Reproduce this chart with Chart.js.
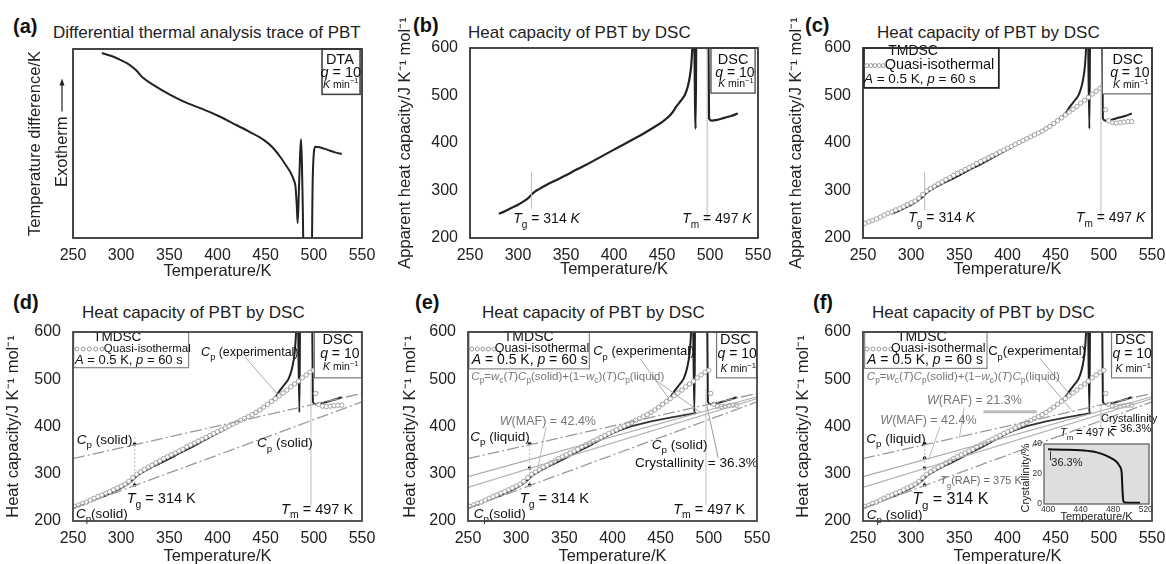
<!DOCTYPE html>
<html>
<head>
<meta charset="utf-8">
<script src="https://cdn.jsdelivr.net/npm/chart.js@4.4.0/dist/chart.umd.min.js"></script>
<style>
  body { margin: 0; background: #fff; width: 1166px; height: 564px; position: relative; overflow: hidden; font-family: "Liberation Sans", Arial, sans-serif; }
  canvas { position: absolute; left: 0; top: 0; }
  .lbl { position: absolute; font-weight: bold; font-size: 20px; line-height: 20px; color: #111; }
  .ttl { position: absolute; font-size: 17px; line-height: 17px; color: #222; white-space: nowrap; }
</style>
</head>
<body>
<div class="lbl" style="left:13px;top:16px">(a)</div>
<div class="ttl" style="left:53px;top:24px">Differential thermal analysis trace of PBT</div>
<div class="lbl" style="left:413px;top:15px">(b)</div>
<div class="ttl" style="left:468px;top:24px">Heat capacity of PBT by DSC</div>
<div class="lbl" style="left:805px;top:15px">(c)</div>
<div class="ttl" style="left:877px;top:24px">Heat capacity of PBT by DSC</div>
<div class="lbl" style="left:13px;top:292px">(d)</div>
<div class="ttl" style="left:82px;top:304px">Heat capacity of PBT by DSC</div>
<div class="lbl" style="left:415px;top:292px">(e)</div>
<div class="ttl" style="left:482px;top:304px">Heat capacity of PBT by DSC</div>
<div class="lbl" style="left:813px;top:292px">(f)</div>
<div class="ttl" style="left:872px;top:304px">Heat capacity of PBT by DSC</div>

<canvas id="cA" width="1166" height="564"></canvas>
<canvas id="cB" width="1166" height="564"></canvas>
<canvas id="cC" width="1166" height="564"></canvas>
<canvas id="cD" width="1166" height="564"></canvas>
<canvas id="cE" width="1166" height="564"></canvas>
<canvas id="cF" width="1166" height="564"></canvas>
<canvas id="cI" width="1166" height="564"></canvas>

<script>
// DTA trace (arbitrary units, exotherm up)
const dtaTemp = [280, 290, 300, 306, 315, 323, 335, 350, 365, 382, 400, 416, 432, 448, 457, 465, 471, 476, 479, 481, 482.3, 483.2, 484.5, 485.8, 486.7, 487.6, 488.4, 489.8, 497.5, 498.8, 500, 501.5, 506, 515, 522, 529];
const dtaSignal = [97.9, 96.3, 94, 92.5, 89, 84.6, 80.5, 76, 72.2, 68.7, 64.8, 60.7, 56.5, 51.9, 48, 43, 38.5, 34.5, 31, 27, 17, 8, 25, 45, 52.2, 40, 20, -20, -20, 30, 45, 48.3, 48, 46.5, 45.3, 44.4];

// DSC apparent heat capacity, q = 10 K/min
const dscTemp = [280, 285, 290, 295, 300, 305, 310, 314, 318, 322, 330, 340, 350, 360, 370, 380, 390, 400, 410, 420, 430, 440, 450, 455, 460, 465, 470, 474, 477, 479, 480.5, 482, 483, 485, 486, 498, 499, 502, 508, 515, 522, 529];
const dscCp = [251, 255, 260, 265, 270, 276, 283, 291, 298, 303, 312, 322, 332, 343, 353, 364, 375, 386, 397, 408, 419, 431, 444, 452, 462, 477, 490, 502, 520, 540, 565, 620, 700, 430, 700, 700, 452, 447, 449, 453, 457, 462];

// quasi-isothermal TMDSC
const tmdscTemp = [252, 256, 260, 264, 268, 272, 276, 280, 284, 288, 292, 296, 300, 304, 308, 312, 316, 320, 324, 328, 332, 336, 340, 344, 348, 352, 356, 360, 364, 368, 372, 376, 380, 384, 388, 392, 396, 400, 404, 408, 412, 416, 420, 424, 428, 432, 436, 440, 444, 448, 452, 456, 460, 464, 468, 472, 476, 480, 484, 488, 492, 496, 500, 502, 505, 509, 513, 517, 521, 525, 529];
const tmdscCp = [231, 234, 237, 240, 244, 248, 252, 255, 259, 262, 266, 270, 274, 278, 284, 292, 299, 304, 309, 314, 318, 323, 327, 332, 336, 340, 344, 348, 352, 357, 361, 365, 369, 373, 377, 381, 385, 389, 393, 397, 401, 405, 409, 413, 417, 421, 425, 430, 435, 441, 447, 453, 459, 465, 471, 477, 484, 490, 496, 503, 509, 515, 519, 470, 447, 443, 442, 443, 444, 445, 445];

// reference heat capacities (end points of straight lines)
const refTemp = [250, 550];
const liquidCp = [332, 470];
const solidCp = [227, 452];
const base363Cp = [294, 463];   // w_c = 36.3 %
const raf213Cp = [271, 459];    // w_c + W(RAF) = 57.6 %

// Cp computed with w_c(T)
const calcTemp = [400, 410, 420, 440, 460, 480, 487];
const calcCp = [386, 394, 401, 411, 419, 426, 429];

// marks at Tg = 314 K
const tgDotsD = [363, 276];
const tgDotsE = [364, 312, 276];
const tgDotsF = [364, 333, 312, 276];

// inset: crystallinity vs temperature
const crystTemp = [400, 420, 440, 455, 465, 472, 478, 483, 486, 488, 489.5, 490.5, 491, 491.5, 492, 492.5, 494, 500, 513];
const crystPct = [36.4, 36.2, 35.8, 34.9, 33.5, 32, 30.3, 28.5, 26.8, 25, 23.5, 20, 14, 8, 4, 1.5, 0.5, 0.4, 0.4];

const xTicks = [250, 300, 350, 400, 450, 500, 550];
const cpTicks = [200, 300, 400, 500, 600];
const insetXTicks = [400, 440, 480, 520];
const insetYTicks = [0, 20, 40];

const FONT = '"Liberation Sans", Arial, sans-serif';
Chart.defaults.font.family = FONT;
Chart.defaults.color = '#222';

const pts = (xs, ys) => xs.map((x, i) => ({ x: x, y: ys[i] }));
const seg = (x0, y0, x1, y1, color, w, dash) => ({
  data: [{ x: x0, y: y0 }, { x: x1, y: y1 }], borderColor: color, borderWidth: w || 1,
  borderDash: dash || [], pointRadius: 0, fill: false
});

function rich(ctx, x, y, segs, size, color, align) {
  const parts = segs.map(s => {
    const st = s[1] || '';
    const small = st.includes('b') || st.includes('p');
    const fs = small ? size * 0.72 : size;
    const font = (st.includes('i') ? 'italic ' : '') + fs + 'px ' + FONT;
    ctx.font = font;
    return { t: s[0], font: font, w: ctx.measureText(s[0]).width, dy: st.includes('b') ? size * 0.32 : st.includes('p') ? -size * 0.42 : 0 };
  });
  const total = parts.reduce((a, p) => a + p.w, 0);
  let cx = align === 'center' ? x - total / 2 : align === 'right' ? x - total : x;
  ctx.fillStyle = color;
  ctx.textAlign = 'left';
  ctx.textBaseline = 'alphabetic';
  parts.forEach(p => { ctx.font = p.font; ctx.fillText(p.t, cx, y + p.dy); cx += p.w; });
}

// plugin drawing frame, legend boxes and labels
function deco(spec) {
  return {
    id: 'deco',
    beforeDatasetsDraw(chart) {
      if (!spec.bg) return;
      const a = chart.chartArea;
      chart.ctx.fillStyle = spec.bg;
      chart.ctx.fillRect(a.left, a.top, a.width, a.height);
    },
    afterDatasetsDraw(chart) {
      const { ctx, chartArea: a } = chart;
      const sx = chart.scales.x, sy = chart.scales.y;
      ctx.save();
      (spec.boxes || []).forEach(b => {
        const x0 = sx.getPixelForValue(b.x0), x1 = sx.getPixelForValue(b.x1);
        const y0 = sy.getPixelForValue(b.y0), y1 = sy.getPixelForValue(b.y1);
        ctx.fillStyle = '#fff';
        ctx.fillRect(x0, y0, x1 - x0, y1 - y0);
        ctx.strokeStyle = b.color || '#666';
        ctx.lineWidth = b.w || 1.4;
        ctx.strokeRect(x0, y0, x1 - x0, y1 - y0);
      });
      (spec.circles || []).forEach(c => {
        const n = 5, x0 = sx.getPixelForValue(c.x0), x1 = sx.getPixelForValue(c.x1), yy = sy.getPixelForValue(c.y);
        ctx.strokeStyle = '#9a9a9a';
        ctx.lineWidth = 1;
        for (let i = 0; i < n; i++) {
          ctx.beginPath();
          ctx.arc(x0 + (x1 - x0) * i / (n - 1), yy, 2, 0, Math.PI * 2);
          ctx.stroke();
        }
      });
      (spec.texts || []).forEach(t => {
        rich(ctx, sx.getPixelForValue(t.x), sy.getPixelForValue(t.y), t.s, t.size || 14, t.color || '#111', t.align || 'left');
      });
      ctx.strokeStyle = spec.frameColor || '#333';
      ctx.lineWidth = spec.frameWidth || 1.8;
      ctx.strokeRect(a.left, a.top, a.width, a.height);
      if (spec.after) spec.after(chart);
      ctx.restore();
    }
  };
}

function panel(id, area, yTitle, yTitleX, xTitleY, datasets, spec, yCfg) {
  const lh = 16.5 * 1.2;
  const padLeft = yTitleX - lh / 2;
  const hx = xTitleY + lh / 2 - area.B;
  return new Chart(document.getElementById(id), {
    type: 'line',
    data: { datasets: datasets },
    options: {
      responsive: false, animation: false, events: [],
      layout: { padding: { left: padLeft, top: area.T, right: 1166 - area.R, bottom: 564 - area.B - hx } },
      plugins: { legend: { display: false }, tooltip: { enabled: false } },
      scales: {
        x: {
          type: 'linear', min: 250, max: 550,
          afterBuildTicks: s => { s.ticks = xTicks.map(v => ({ value: v })); },
          ticks: { padding: 0, font: { size: 16 }, color: '#222' },
          grid: { display: false }, border: { display: false },
          title: { display: true, text: 'Temperature/K', font: { size: 16.5 }, padding: 0, color: '#222' },
          afterFit: s => { s.height = hx; }
        },
        y: Object.assign({
          type: 'linear', min: 200, max: 600,
          afterBuildTicks: s => { s.ticks = cpTicks.map(v => ({ value: v })); },
          ticks: { padding: 4, font: { size: 16 }, color: '#222' },
          grid: { display: false }, border: { display: false },
          title: { display: true, text: yTitle, font: { size: 16.5 }, padding: 0, color: '#222' },
          afterFit: s => { s.width = area.L - padLeft; }
        }, yCfg || {})
      }
    },
    plugins: [deco(spec)]
  });
}

// common styles
const dscLine = (w) => ({ data: pts(dscTemp, dscCp), borderColor: '#222', borderWidth: w || 2, pointRadius: 0, cubicInterpolationMode: 'monotone' });
const tmdscPts = () => ({ data: pts(tmdscTemp, tmdscCp), showLine: false, pointRadius: 2.2, pointBorderWidth: 1, pointBorderColor: '#a0a0a0', pointBackgroundColor: '#fff' });
const dashDot = [12, 3, 2, 3];
const liquidLine = () => ({ data: pts(refTemp, liquidCp), borderColor: '#9a9a9a', borderWidth: 1.3, borderDash: dashDot, pointRadius: 0 });
const solidLine = () => ({ data: pts(refTemp, solidCp), borderColor: '#9a9a9a', borderWidth: 1.3, borderDash: dashDot, pointRadius: 0 });
const baseLine = () => ({ data: pts(refTemp, base363Cp), borderColor: '#ababab', borderWidth: 1.2, pointRadius: 0 });
const rafLine = () => ({ data: pts(refTemp, raf213Cp), borderColor: '#b5b5b5', borderWidth: 1.2, pointRadius: 0 });
const calcLine = () => ({ data: pts(calcTemp, calcCp), borderColor: '#333', borderWidth: 1.8, pointRadius: 0 });
const dots = (cps) => ({ data: cps.map(c => ({ x: 314, y: c })), showLine: false, pointRadius: 1.8, pointBackgroundColor: '#111', pointBorderWidth: 0 });
const vline = (t, c0, c1, dash) => seg(t, c0, t, c1, '#bdbdbd', 1, dash);

const CpSym = (s, it) => [['C', it === false ? '' : 'i'], ['p', 'b'], [s]];
const dscTexts = (xc, yDsc, yQ, yK) => [
  { x: xc, y: yDsc, s: [['DSC']], size: 14.5, align: 'center' },
  { x: xc + 2, y: yQ, s: [['q', 'i'], [' = 10']], size: 14, align: 'center' },
  { x: xc + 3, y: yK, s: [['K', 'i'], [' min'], ['\u22121', 'p']], size: 10.5, align: 'center' }
];
const tmdscTexts = (p) => [
  { x: p.xc, y: p.yT, s: [['TMDSC']], size: p.sT, align: 'center' },
  { x: p.xq, y: p.yQ, s: [['Quasi-isothermal']], size: p.sQ },
  { x: p.xa, y: p.yA, s: [['A', 'i'], [' = 0.5 K, '], ['p', 'i'], [' = 60 s']], size: p.sA, align: 'center' }
];
const formula = (x, y) => ({ x: x, y: y, size: 11.5, color: '#777', s: [['C', 'i'], ['p', 'b'], ['='], ['w', 'i'], ['c', 'b'], ['('], ['T', 'i'], [')'], ['C', 'i'], ['p', 'b'], ['(solid)+(1\u2212'], ['w', 'i'], ['c', 'b'], [')('], ['T', 'i'], [')'], ['C', 'i'], ['p', 'b'], ['(liquid)']] });

// (a) DTA
panel('cA', { L: 73, T: 49, R: 362, B: 238 }, 'Temperature difference/K', 35, 271,
  [{ data: pts(dtaTemp, dtaSignal), borderColor: '#222', borderWidth: 2, pointRadius: 0, cubicInterpolationMode: 'monotone' }],
  {
    boxes: [{ x0: 508.5, x1: 548, y0: 100, y1: 76, color: '#444', w: 1.6 }],
    texts: [
      { x: 527, y: 92.3, s: [['DTA']], size: 14.5, align: 'center' },
      { x: 528, y: 85.3, s: [['q', 'i'], [' = 10']], size: 14.5, align: 'center' },
      { x: 528, y: 79.6, s: [['K', 'i'], [' min'], ['\u22121', 'p']], size: 10.5, align: 'center' }
    ],
    after: chart => {
      const ctx = chart.ctx, a = chart.chartArea;
      const xc = a.left - 11, yStart = a.top + 138;
      ctx.save();
      ctx.translate(xc, yStart);
      ctx.rotate(-Math.PI / 2);
      ctx.font = '16.5px ' + FONT;
      ctx.fillStyle = '#222';
      ctx.textBaseline = 'middle';
      ctx.textAlign = 'left';
      ctx.fillText('Exotherm', 0, 0);
      const w = ctx.measureText('Exotherm').width;
      ctx.strokeStyle = '#222';
      ctx.lineWidth = 1.2;
      ctx.beginPath(); ctx.moveTo(w + 5, 0); ctx.lineTo(w + 33, 0); ctx.stroke();
      ctx.beginPath(); ctx.moveTo(w + 38, 0); ctx.lineTo(w + 31, -2.5); ctx.lineTo(w + 31, 2.5); ctx.closePath(); ctx.fill();
      ctx.restore();
    }
  },
  { min: 0, max: 100, afterBuildTicks: s => { s.ticks = []; }, ticks: { display: false } }
);

// (b) DSC only
panel('cB', { L: 470, T: 48, R: 758, B: 238 }, 'Apparent heat capacity/J K\u207B\u00B9 mol\u207B\u00B9', 405, 269,
  [vline(314, 262, 340), vline(497, 240, 600), dscLine(2.2)],
  {
    boxes: [{ x0: 501, x1: 547, y0: 600, y1: 505, color: '#555', w: 1.4 }],
    texts: dscTexts(524, 566, 540, 517).concat([
      { x: 295, y: 231, s: [['T', 'i'], ['g', 'b'], [' = 314 '], ['K', 'i']], size: 14 },
      { x: 471, y: 231, s: [['T', 'i'], ['m', 'b'], [' = 497 '], ['K', 'i']], size: 14 }
    ])
  }
);

// (c) DSC + TMDSC
panel('cC', { L: 863, T: 48, R: 1152, B: 238 }, 'Apparent heat capacity/J K\u207B\u00B9 mol\u207B\u00B9', 796, 269,
  [vline(314, 258, 340), vline(497, 244, 525), tmdscPts(), dscLine(2)],
  {
    boxes: [{ x0: 251, x1: 391, y0: 600, y1: 516, color: '#222', w: 1.8 }, { x0: 498.5, x1: 550, y0: 600, y1: 503.5, color: '#666', w: 1.2 }],
    circles: [{ x0: 254, x1: 271, y: 563 }],
    texts: tmdscTexts({ xc: 302, yT: 585, sT: 14, xq: 272.5, yQ: 556, sQ: 14.5, xa: 309, yA: 527, sA: 13.5 })
      .concat(dscTexts(525, 567, 540, 515)).concat([
      { x: 297, y: 233, s: [['T', 'i'], ['g', 'b'], [' = 314 '], ['K', 'i']], size: 14 },
      { x: 471, y: 233, s: [['T', 'i'], ['m', 'b'], [' = 497 '], ['K', 'i']], size: 14 }
    ])
  }
);

// (d) with solid / liquid reference lines
panel('cD', { L: 73, T: 332, R: 362, B: 521 }, 'Heat capacity/J K\u207B\u00B9 mol\u207B\u00B9', 13, 556,
  [vline(314, 272, 378, [2, 2]), vline(497, 232, 500), liquidLine(), solidLine(),
   seg(428.6, 547, 462, 469, '#aaa', 1), tmdscPts(), dscLine(2), dots(tgDotsD)],
  {
    frameColor: '#444',
    boxes: [{ x0: 250.7, x1: 370, y0: 600, y1: 524.5, color: '#888', w: 1.2 }, { x0: 500.6, x1: 549.5, y0: 600, y1: 503, color: '#777', w: 1.2 }],
    circles: [{ x0: 254, x1: 280, y: 564 }],
    texts: tmdscTexts({ xc: 296, yT: 582, sT: 13.5, xq: 282, yQ: 557.5, sQ: 11.5, xa: 308, yA: 532, sA: 13 })
      .concat(dscTexts(525, 575, 544, 519)).concat([
      { x: 383, y: 549, s: CpSym(' (experimental)'), size: 12.5 },
      { x: 254, y: 364, s: CpSym(' (solid)'), size: 13.5 },
      { x: 441, y: 356, s: CpSym(' (solid)'), size: 13.5 },
      { x: 253, y: 207, s: CpSym('(solid)'), size: 13.5 },
      { x: 305.7, y: 238, s: [['T', 'i'], ['g', 'b'], [' = 314 K']], size: 14.5 },
      { x: 466, y: 215.5, s: [['T', 'i'], ['m', 'b'], [' = 497 K']], size: 14.5 }
    ])
  }
);

// (e) + mixing baseline
panel('cE', { L: 468, T: 332, R: 757, B: 521 }, 'Heat capacity/J K\u207B\u00B9 mol\u207B\u00B9', 410, 556,
  [vline(314, 272, 368, [2, 2]), vline(497, 232, 480), liquidLine(), solidLine(), baseLine(), rafLine(),
   seg(428.5, 544, 458, 460, '#aaa', 1), seg(442, 502, 490.8, 431, '#aaa', 1), seg(509.8, 333, 497.8, 445, '#999', 1),
   seg(331, 399, 322.4, 310, '#bbb', 1),
   tmdscPts(), dscLine(2), calcLine(), dots(tgDotsE)],
  {
    frameColor: '#444',
    boxes: [{ x0: 251, x1: 376, y0: 600, y1: 522, color: '#888', w: 1.2 }, { x0: 508, x1: 549.5, y0: 600, y1: 503, color: '#777', w: 1.2 }],
    circles: [{ x0: 254, x1: 277, y: 564 }],
    texts: tmdscTexts({ xc: 313, yT: 582, sT: 14, xq: 277.7, yQ: 557.5, sQ: 12.5, xa: 314, yA: 533, sA: 14 })
      .concat(dscTexts(527.5, 575, 544, 515)).concat([
      { x: 380, y: 550.6, s: CpSym(' (experimental)'), size: 13 },
      formula(253.5, 499),
      { x: 283, y: 402.5, s: [['W', 'i'], ['(MAF) = 42.4%']], size: 12.5, color: '#777' },
      { x: 252.4, y: 369, s: CpSym(' (liquid)'), size: 13.5 },
      { x: 303.8, y: 238, s: [['T', 'i'], ['g', 'b'], [' = 314 K']], size: 14.5 },
      { x: 256, y: 207, s: CpSym('(solid)'), size: 13.5 },
      { x: 440.8, y: 353, s: CpSym(' (solid)'), size: 13.5 },
      { x: 423.4, y: 314, s: [['Crystallinity = 36.3%']], size: 13.5 },
      { x: 463, y: 215.5, s: [['T', 'i'], ['m', 'b'], [' = 497 K']], size: 14.5 }
    ])
  }
);

// (f) + rigid amorphous fraction
panel('cF', { L: 863, T: 332, R: 1152, B: 521 }, 'Heat capacity/J K\u207B\u00B9 mol\u207B\u00B9', 803, 556,
  [vline(314, 272, 368, [2, 2]), vline(497, 395, 445), liquidLine(), solidLine(), baseLine(), rafLine(),
   seg(433.7, 544, 464.9, 467, '#aaa', 1), seg(437, 505, 468, 431, '#aaa', 1), seg(375, 431.3, 430.3, 431.3, '#bbb', 3),
   seg(330, 400, 318, 330, '#bbb', 1), seg(355, 440, 350, 375, '#bbb', 1),
   tmdscPts(), dscLine(2), calcLine(), dots(tgDotsF)],
  {
    frameColor: '#444',
    boxes: [{ x0: 251.7, x1: 378.7, y0: 600, y1: 523, color: '#888', w: 1.2 }, { x0: 508, x1: 549.5, y0: 600, y1: 503, color: '#777', w: 1.2 }],
    circles: [{ x0: 254, x1: 279, y: 564 }],
    texts: tmdscTexts({ xc: 311, yT: 582, sT: 14, xq: 279, yQ: 557.5, sQ: 12.5, xa: 314.4, yA: 533, sA: 14 })
      .concat(dscTexts(527.5, 575, 544, 515)).concat([
      { x: 380, y: 550.6, s: CpSym('(experimental)', false), size: 13 },
      formula(254, 499),
      { x: 316.4, y: 448, s: [['W', 'i'], ['(RAF) = 21.3%']], size: 12.5, color: '#777' },
      { x: 268, y: 406, s: [['W', 'i'], ['(MAF) = 42.4%']], size: 12.5, color: '#777' },
      { x: 253.5, y: 365, s: CpSym(' (liquid)'), size: 13.5 },
      { x: 330, y: 277.6, s: [['T', 'i'], ['g', 'b'], ['(RAF) = 375 K']], size: 11, color: '#666' },
      { x: 301, y: 236.7, s: [['T', 'i'], ['g', 'b'], [' = 314 K']], size: 16 },
      { x: 254, y: 205, s: CpSym(' (solid)'), size: 13.5 },
      { x: 497, y: 409, s: [['Crystallinity']], size: 11 },
      { x: 507, y: 388, s: [['= 36.3%']], size: 11 },
      { x: 454.5, y: 379, s: [['T', 'i'], ['m', 'b'], [' = 497 K']], size: 11 }
    ])
  }
);

// (f) inset: crystallinity
(function () {
  const area = { L: 1044, T: 444, R: 1149, B: 504 };
  new Chart(document.getElementById('cI'), {
    type: 'line',
    data: { datasets: [{ data: pts(crystTemp, crystPct), borderColor: '#111', borderWidth: 2, pointRadius: 0, cubicInterpolationMode: 'monotone' }] },
    options: {
      responsive: false, animation: false, events: [],
      layout: { padding: { left: area.L, top: area.T, right: 1166 - area.R, bottom: 564 - area.B } },
      plugins: { legend: { display: false }, tooltip: { enabled: false } },
      scales: {
        x: { type: 'linear', min: 395, max: 524, display: false },
        y: { type: 'linear', min: -0.5, max: 40, display: false }
      }
    },
    plugins: [deco({
      bg: '#dedede', frameColor: '#555', frameWidth: 1.2,
      texts: [{ x: 404, y: 25, s: [['36.3%']], size: 11, color: '#222' }],
      after: chart => {
        const ctx = chart.ctx, a = chart.chartArea, sx = chart.scales.x, sy = chart.scales.y;
        const x = sx.getPixelForValue(403);
        ctx.strokeStyle = '#333'; ctx.lineWidth = 1;
        ctx.beginPath(); ctx.moveTo(x, sy.getPixelForValue(29)); ctx.lineTo(x, sy.getPixelForValue(35)); ctx.stroke();
        ctx.fillStyle = '#333';
        ctx.font = '8.5px ' + FONT;
        ctx.textAlign = 'center'; ctx.textBaseline = 'top';
        insetXTicks.forEach(v => ctx.fillText(String(v), sx.getPixelForValue(v), a.bottom + 1));
        ctx.textAlign = 'right'; ctx.textBaseline = 'middle';
        insetYTicks.forEach(v => ctx.fillText(String(v), a.left - 2, sy.getPixelForValue(v)));
        ctx.fillStyle = '#222';
        ctx.font = '11px ' + FONT;
        ctx.textAlign = 'center'; ctx.textBaseline = 'alphabetic';
        ctx.fillText('Temperature/K', (a.left + a.right) / 2, a.bottom + 16);
        ctx.save();
        ctx.translate(a.left - 13, (a.top + a.bottom) / 2 + 4);
        ctx.rotate(-Math.PI / 2);
        ctx.textBaseline = 'bottom';
        ctx.fillText('Crystallinity/%', 0, 0);
        ctx.restore();
      }
    })]
  });
})();
</script>
</body>
</html>
